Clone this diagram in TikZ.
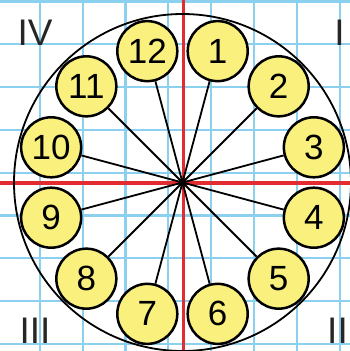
\documentclass[tikz,border=0pt]{standalone}
\usepackage{fontspec}
\setsansfont{Liberation Sans}
\definecolor{gridblue}{RGB}{140,208,240}
\definecolor{clockred}{RGB}{225,45,50}
\definecolor{numyellow}{RGB}{250,240,125}
\begin{document}
\begin{tikzpicture}[x=1pt,y=1pt,
  hour/.style={circle,draw=black,line width=2.5pt,fill=numyellow,minimum size=60pt,inner sep=0pt,font=\sffamily\fontsize{35}{35}\selectfont},
  quad/.style={font=\sffamily\fontsize{37}{37}\selectfont,inner sep=0pt,text=black!85},
  spoke/.style={line width=1.8pt,black}]
\useasboundingbox (-182.5,-168.5) rectangle (167.5,182.5);
\fill[white] (-182.5,-168.5) rectangle (167.5,182.5);
% grid
\foreach \k in {-1,...,7} {
  \draw[gridblue,line width=2.2pt] ({40+42.8*\k-182.5},-168.5) -- ({40+42.8*\k-182.5},182.5);
}
\foreach \k in {0,...,8} {
  \draw[gridblue,line width=2.2pt] (-182.5,{182.5-1.5-42.8*\k}) -- (167.5,{182.5-1.5-42.8*\k});
}
% red axes
\draw[clockred,line width=3.5pt] (1,-168.5) -- (1,182.5);
\draw[clockred,line width=3.5pt] (-182.5,-0.5) -- (167.5,-0.5);
% big circle
\coordinate (O) at (0,0);
\draw[line width=1.8pt] (O) circle[radius=168.5pt];
% hour circles
\foreach \n in {1,...,12} {
  \node[hour] (c\n) at ({75-30*(\n-1)}:136) {\n};
}
\foreach \n in {1,...,12} {
  \draw[spoke] (O) -- (c\n);
}
\fill (O) circle[radius=4pt];
% quadrant labels
\node[quad] (qIV) at (-147.5,150) {IV};
\node[quad] (qI) at (157,150) {I};
\node[quad] (qIII) at (-147.5,-148) {III};
\node[quad] (qII) at (155,-148) {II};
\end{tikzpicture}
\end{document}
